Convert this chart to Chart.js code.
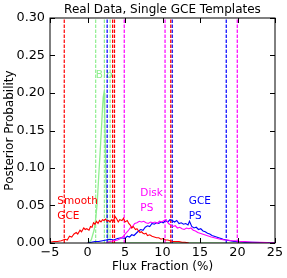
<!DOCTYPE html>
<html>
<head>
<meta charset="utf-8">
<script src="https://cdn.jsdelivr.net/npm/chart.js@4/dist/chart.umd.min.js"></script>
<style>
  html, body { margin: 0; padding: 0; background: #fff; }
  #wrap { width: 287px; height: 278px; }
</style>
</head>
<body>
<div id="wrap"><canvas id="chart" width="287" height="278"></canvas></div>
<script>
// x ticks / y ticks
const xTicks = [-5, 0, 5, 10, 15, 20, 25];
const yTicks = [0, 0.05, 0.10, 0.15, 0.20, 0.25, 0.30];

// Bulge (light green)
const bulgeX = [0.1, 0.5, 0.9, 1.1, 1.3, 1.5, 1.7, 1.9, 2.0, 2.1, 2.2, 2.3, 2.4, 2.5, 2.6, 2.7, 2.8, 5, 10, 15, 20, 25];
const bulgeY = [0.0, 0.004, 0.018, 0.033, 0.054, 0.09, 0.124, 0.16, 0.18, 0.195, 0.20, 0.17, 0.12, 0.07, 0.03, 0.005, 0.0, 0, 0, 0, 0, 0];

// Smooth GCE (red)
const smoothX = [-5.0, -4.5, -4.0, -3.5, -3.0, -2.7, -2.4, -2.1, -1.8, -1.5, -1.3, -1.0, -0.8, -0.5, -0.3, -0.1, 0.2, 0.4, 0.6, 0.8, 1.0, 1.2, 1.4, 1.6, 1.8, 2.0, 2.2, 2.4, 2.6, 2.8, 3.0, 3.2, 3.4, 3.7, 3.9, 4.1, 4.3, 4.6, 4.8, 5.0, 5.3, 5.5, 5.7, 5.9, 6.1, 6.4, 6.6, 6.8, 7.0, 7.2, 7.4, 7.6, 7.8, 8.0, 8.3, 8.6, 8.9, 9.2, 9.5, 9.8, 10.1, 10.4, 10.7, 11.0, 11.4, 11.8, 12.2, 12.6, 13.0, 13.5];
const smoothY = [0.001, 0.002, 0.002, 0.003, 0.005, 0.004, 0.009, 0.008, 0.012, 0.014, 0.012, 0.017, 0.015, 0.020, 0.018, 0.019, 0.017, 0.022, 0.021, 0.027, 0.025, 0.029, 0.026, 0.030, 0.028, 0.031, 0.030, 0.032, 0.029, 0.030, 0.028, 0.031, 0.029, 0.035, 0.032, 0.028, 0.031, 0.030, 0.033, 0.028, 0.030, 0.026, 0.024, 0.020, 0.022, 0.018, 0.019, 0.016, 0.014, 0.015, 0.013, 0.012, 0.013, 0.010, 0.011, 0.009, 0.008, 0.007, 0.007, 0.005, 0.006, 0.004, 0.004, 0.003, 0.002, 0.002, 0.002, 0.001, 0.001, 0.0];

// GCE PS (blue)
const gcepsX = [0.0, 0.5, 1.0, 1.5, 2.0, 2.5, 3.0, 3.5, 4.0, 4.5, 5.0, 5.3, 5.6, 5.9, 6.2, 6.5, 6.8, 7.1, 7.4, 7.7, 8.0, 8.3, 8.6, 8.9, 9.2, 9.5, 9.8, 10.1, 10.4, 10.7, 11.0, 11.3, 11.6, 11.9, 12.2, 12.5, 12.8, 13.1, 13.4, 13.6, 13.9, 14.2, 14.5, 14.8, 15.1, 15.4, 15.7, 16.0, 16.3, 16.6, 16.9, 17.2, 17.5, 17.8, 18.1, 18.5, 19.0, 19.5, 20.0, 21.0, 22.0, 23.0, 24.0, 25.0];
const gcepsY = [0.0, 0.001, 0.002, 0.002, 0.003, 0.004, 0.005, 0.004, 0.006, 0.007, 0.006, 0.009, 0.008, 0.011, 0.010, 0.013, 0.016, 0.018, 0.017, 0.021, 0.023, 0.022, 0.026, 0.025, 0.027, 0.026, 0.028, 0.027, 0.030, 0.028, 0.031, 0.030, 0.028, 0.030, 0.026, 0.027, 0.025, 0.026, 0.024, 0.029, 0.022, 0.020, 0.021, 0.018, 0.019, 0.016, 0.015, 0.013, 0.012, 0.010, 0.009, 0.008, 0.007, 0.006, 0.005, 0.004, 0.003, 0.002, 0.002, 0.001, 0.001, 0.0005, 0.0003, 0.0];

// Disk PS (magenta)
const diskX = [2.5, 3.0, 3.5, 4.0, 4.4, 4.8, 5.1, 5.4, 5.7, 6.0, 6.3, 6.6, 6.9, 7.2, 7.5, 7.8, 8.1, 8.4, 8.7, 9.0, 9.3, 9.6, 9.9, 10.2, 10.5, 10.8, 11.1, 11.4, 11.7, 12.0, 12.3, 12.6, 12.9, 13.2, 13.5, 13.8, 14.1, 14.4, 14.7, 15.0, 15.3, 15.6, 15.9, 16.2, 16.5, 16.9, 17.3, 17.7, 18.2, 18.7, 19.2, 19.7, 20.3, 21.0, 22.0, 23.0, 24.0, 25.0];
const diskY = [0.0, 0.002, 0.003, 0.004, 0.006, 0.009, 0.013, 0.016, 0.020, 0.022, 0.026, 0.027, 0.029, 0.028, 0.029, 0.027, 0.026, 0.028, 0.027, 0.028, 0.026, 0.029, 0.028, 0.030, 0.031, 0.026, 0.024, 0.022, 0.023, 0.020, 0.021, 0.019, 0.018, 0.020, 0.019, 0.020, 0.017, 0.016, 0.014, 0.013, 0.012, 0.011, 0.010, 0.009, 0.008, 0.007, 0.006, 0.005, 0.004, 0.004, 0.003, 0.003, 0.002, 0.002, 0.001, 0.001, 0.0005, 0.0003];

// dashed interval lines
const smoothLines = [-3.1, 3.35, 3.6, 11.1];
const gcepsLines = [2.62, 11.3, 18.5];
const diskLines = [4.9, 10.34, 19.97];
const bulgeLines = [1.09, 2.25, 3.02];

// text labels
const labelText = ['Blb', 'Smooth', 'GCE', 'Disk', 'PS', 'GCE', 'PS'];
const labelX = [1.11, -4.02, -4.02, 7.04, 7.04, 13.5, 13.5];
const labelY = [0.2235, 0.0554, 0.035, 0.0666, 0.0458, 0.0554, 0.0355];
const labelColor = ['#90ee90', '#ff0000', '#ff0000', '#ff00ff', '#ff00ff', '#0000ff', '#0000ff'];

const titleText = 'Real Data, Single GCE Templates';

const RED = '#ff0000', BLUE = '#0000ff', MAG = '#ff00ff', LG = '#90ee90';
const FONT = 'DejaVu Sans';

function pts(xs, ys) { return xs.map((x, i) => ({ x: x, y: ys[i] })); }

function curve(xs, ys, color, w) {
    return { data: pts(xs, ys), borderColor: color, borderWidth: w || 1.1, showLine: true, pointRadius: 0, fill: false, tension: 0 };
}
function vlines(xs, color) {
    return xs.map(x => ({
        data: [{ x: x, y: 0 }, { x: x, y: 0.30 }],
        borderColor: color, borderWidth: 1.2, borderDash: [3.5, 1.5],
        showLine: true, pointRadius: 0, fill: false
    }));
}

const datasets = [
    curve(smoothX, smoothY, RED),
    curve(diskX, diskY, MAG),
    curve(gcepsX, gcepsY, BLUE),
    ...vlines(bulgeLines, LG),
    ...vlines(diskLines, MAG),
    ...vlines(smoothLines, RED),
    ...vlines(gcepsLines, BLUE),
    curve(bulgeX, bulgeY, LG, 1.3)
];

// frame, inward ticks, title and labels
const decor = {
    id: 'decor',
    beforeDatasetsDraw(chart) {
        const ctx = chart.ctx, xs = chart.scales.x, ys = chart.scales.y;
        ctx.save();
        ctx.font = '10.5px "' + FONT + '"';
        ctx.textBaseline = 'middle';
        ctx.textAlign = 'left';
        ctx.fillStyle = labelColor[0];
        ctx.fillText(labelText[0], xs.getPixelForValue(labelX[0]), ys.getPixelForValue(labelY[0]));
        ctx.restore();
    },
    afterDatasetsDraw(chart) {
        const ctx = chart.ctx, xs = chart.scales.x, ys = chart.scales.y;
        const a = chart.chartArea;
        ctx.save();
        ctx.font = '10.5px "' + FONT + '"';
        ctx.textBaseline = 'middle';
        ctx.textAlign = 'left';
        for (let i = 1; i < labelText.length; i++) {
            ctx.fillStyle = labelColor[i];
            ctx.fillText(labelText[i], xs.getPixelForValue(labelX[i]), ys.getPixelForValue(labelY[i]));
        }
        ctx.fillStyle = '#000';
        ctx.font = '12px "' + FONT + '"';
        ctx.textAlign = 'center';
        ctx.fillText(titleText, (a.left + a.right) / 2, 10);

        ctx.strokeStyle = '#000';
        ctx.lineWidth = 1;
        ctx.strokeRect(a.left, a.top, a.right - a.left, a.bottom - a.top);
        const L = 5;
        ctx.beginPath();
        xTicks.forEach(v => {
            const p = Math.round(xs.getPixelForValue(v)) + 0.5;
            ctx.moveTo(p, a.bottom); ctx.lineTo(p, a.bottom - L);
            ctx.moveTo(p, a.top); ctx.lineTo(p, a.top + L);
        });
        yTicks.forEach(v => {
            const p = Math.round(ys.getPixelForValue(v)) + 0.5;
            ctx.moveTo(a.left, p); ctx.lineTo(a.left + L, p);
            ctx.moveTo(a.right, p); ctx.lineTo(a.right - L, p);
        });
        ctx.stroke();
        ctx.restore();
    }
};

new Chart(document.getElementById('chart').getContext('2d'), {
    type: 'scatter',
    data: { datasets: datasets },
    options: {
        responsive: false,
        animation: false,
        layout: { padding: { left: 0, right: 12, top: 18, bottom: 0 } },
        plugins: {
            legend: { display: false },
            tooltip: { enabled: false },
            title: { display: false }
        },
        scales: {
            x: {
                type: 'linear', min: -5, max: 25,
                afterBuildTicks: s => { s.ticks = xTicks.map(v => ({ value: v })); },
                afterFit: s => { s.height = 35; },
                grid: { display: false, drawTicks: false },
                border: { display: false },
                ticks: { color: '#000', font: { family: FONT, size: 12.8 }, padding: 2, maxRotation: 0,
                         callback: v => (v < 0 ? '\u2212' + Math.abs(v) : String(v)) },
                title: { display: true, text: 'Flux Fraction (%)', color: '#000',
                         font: { family: FONT, size: 12 }, padding: { top: 0, bottom: 4 } }
            },
            y: {
                type: 'linear', min: 0, max: 0.30,
                afterBuildTicks: s => { s.ticks = yTicks.map(v => ({ value: v })); },
                afterFit: s => { s.width = 50; },
                grid: { display: false, drawTicks: false },
                border: { display: false },
                ticks: { color: '#000', font: { family: FONT, size: 12.8 }, padding: 5,
                         callback: v => Number(v).toFixed(2) },
                title: { display: true, text: 'Posterior Probability', color: '#000',
                         font: { family: FONT, size: 12 }, padding: { top: 3, bottom: 0 } }
            }
        }
    },
    plugins: [decor]
});
</script>
</body>
</html>
